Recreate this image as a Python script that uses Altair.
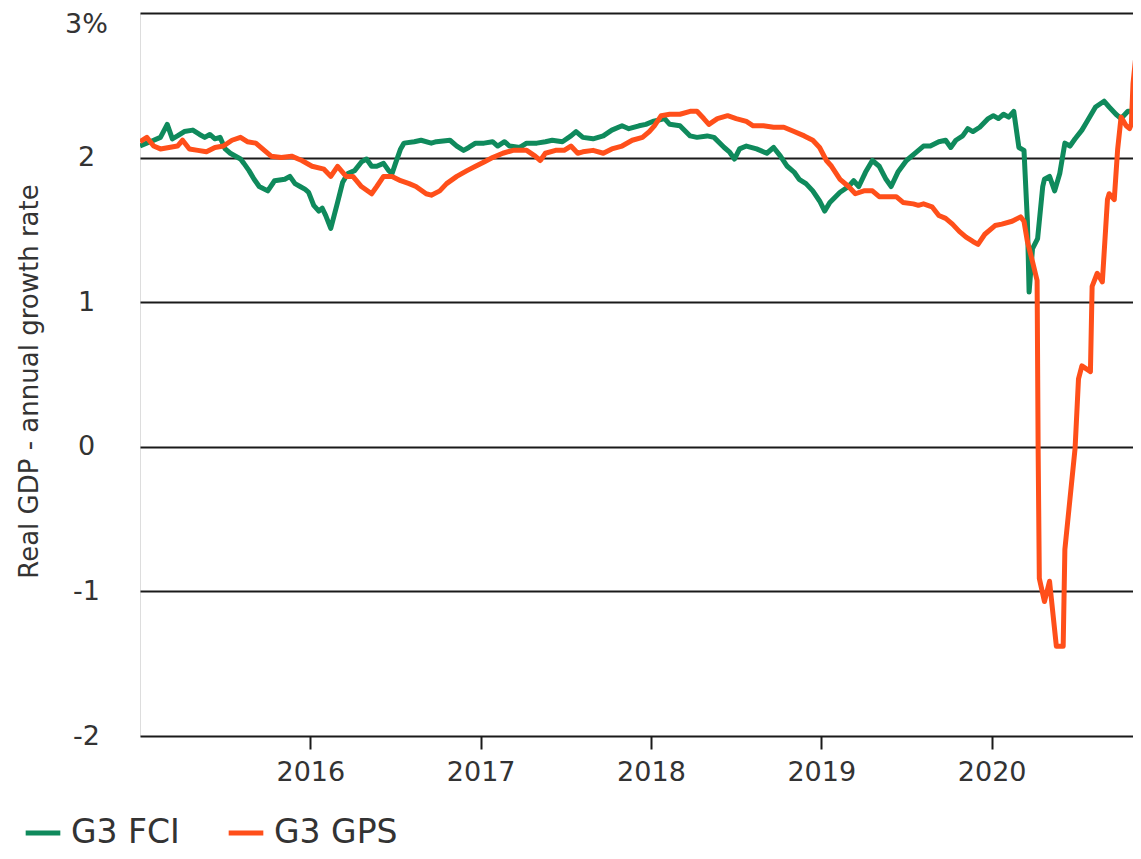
import altair as alt
import pandas as pd

# G3 FCI (green) - decimal year and real GDP growth (%)
fci_year = [2015.00, 2015.06, 2015.12, 2015.16, 2015.19, 2015.22, 2015.26, 2015.31, 2015.35, 2015.38,
            2015.41, 2015.44, 2015.47, 2015.50, 2015.53, 2015.59, 2015.61, 2015.64, 2015.67, 2015.70,
            2015.75, 2015.79, 2015.85, 2015.88, 2015.91, 2015.94, 2015.97, 2015.99, 2016.02, 2016.05,
            2016.07, 2016.09, 2016.12, 2016.14, 2016.16, 2016.19, 2016.22, 2016.26, 2016.30, 2016.33,
            2016.36, 2016.39, 2016.43, 2016.46, 2016.48, 2016.50, 2016.53, 2016.55, 2016.61, 2016.65,
            2016.71, 2016.74, 2016.82, 2016.86, 2016.90, 2016.93, 2016.97, 2017.02, 2017.07, 2017.10,
            2017.14, 2017.17, 2017.23, 2017.27, 2017.33, 2017.38, 2017.42, 2017.48, 2017.53, 2017.56,
            2017.60, 2017.66, 2017.72, 2017.77, 2017.83, 2017.87, 2017.93, 2017.97, 2018.01, 2018.08,
            2018.11, 2018.17, 2018.23, 2018.27, 2018.33, 2018.37, 2018.43, 2018.46, 2018.49, 2018.52,
            2018.56, 2018.62, 2018.68, 2018.72, 2018.76, 2018.80, 2018.84, 2018.87, 2018.91, 2018.95,
            2018.99, 2019.02, 2019.05, 2019.11, 2019.16, 2019.19, 2019.22, 2019.26, 2019.30, 2019.34,
            2019.38, 2019.41, 2019.45, 2019.50, 2019.56, 2019.60, 2019.64, 2019.69, 2019.73, 2019.76,
            2019.79, 2019.83, 2019.86, 2019.89, 2019.93, 2019.98, 2020.01, 2020.04, 2020.07, 2020.10,
            2020.13, 2020.16, 2020.19, 2020.21, 2020.22, 2020.24, 2020.27, 2020.30, 2020.31, 2020.34,
            2020.37, 2020.40, 2020.43, 2020.46, 2020.49, 2020.53, 2020.56, 2020.61, 2020.66, 2020.69,
            2020.73, 2020.76, 2020.80, 2020.85]
fci_value = [2.08, 2.11, 2.14, 2.23, 2.13, 2.15, 2.18, 2.19, 2.16, 2.14,
             2.16, 2.13, 2.14, 2.06, 2.03, 1.99, 1.96, 1.91, 1.85, 1.80,
             1.77, 1.84, 1.85, 1.87, 1.82, 1.80, 1.78, 1.76, 1.67, 1.63,
             1.65, 1.60, 1.51, 1.60, 1.69, 1.83, 1.89, 1.91, 1.97, 1.99,
             1.94, 1.94, 1.96, 1.91, 1.89, 1.96, 2.06, 2.10, 2.11, 2.12,
             2.10, 2.11, 2.12, 2.08, 2.05, 2.07, 2.10, 2.10, 2.11, 2.08,
             2.11, 2.08, 2.07, 2.10, 2.10, 2.11, 2.12, 2.11, 2.15, 2.18,
             2.14, 2.13, 2.15, 2.19, 2.22, 2.20, 2.22, 2.23, 2.25, 2.27,
             2.23, 2.22, 2.15, 2.14, 2.15, 2.14, 2.07, 2.04, 1.99, 2.06,
             2.08, 2.06, 2.03, 2.07, 2.01, 1.94, 1.90, 1.85, 1.82, 1.77,
             1.70, 1.63, 1.69, 1.76, 1.80, 1.84, 1.80, 1.90, 1.98, 1.94,
             1.85, 1.80, 1.90, 1.98, 2.04, 2.08, 2.08, 2.11, 2.12, 2.07,
             2.12, 2.15, 2.20, 2.18, 2.21, 2.27, 2.29, 2.27, 2.30, 2.28,
             2.32, 2.07, 2.05, 1.56, 1.07, 1.37, 1.44, 1.80, 1.85, 1.87,
             1.77, 1.89, 2.10, 2.08, 2.13, 2.19, 2.25, 2.35, 2.39, 2.35,
             2.30, 2.27, 2.32, 2.32]

# G3 GPS (orange)
gps_year = [2015.00, 2015.04, 2015.08, 2015.12, 2015.17, 2015.22, 2015.25, 2015.29, 2015.34, 2015.39,
            2015.44, 2015.49, 2015.54, 2015.59, 2015.63, 2015.68, 2015.73, 2015.77, 2015.83, 2015.89,
            2015.95, 2016.01, 2016.08, 2016.12, 2016.16, 2016.21, 2016.25, 2016.30, 2016.36, 2016.39,
            2016.43, 2016.48, 2016.53, 2016.58, 2016.62, 2016.68, 2016.71, 2016.76, 2016.80, 2016.86,
            2016.92, 2016.97, 2017.02, 2017.07, 2017.13, 2017.19, 2017.27, 2017.32, 2017.35, 2017.38,
            2017.44, 2017.49, 2017.53, 2017.57, 2017.60, 2017.66, 2017.72, 2017.77, 2017.83, 2017.89,
            2017.95, 2017.99, 2018.02, 2018.06, 2018.11, 2018.17, 2018.23, 2018.27, 2018.31, 2018.34,
            2018.39, 2018.45, 2018.50, 2018.56, 2018.60, 2018.66, 2018.72, 2018.78, 2018.84, 2018.90,
            2018.95, 2018.99, 2019.03, 2019.06, 2019.11, 2019.16, 2019.20, 2019.25, 2019.30, 2019.34,
            2019.39, 2019.44, 2019.48, 2019.54, 2019.57, 2019.60, 2019.65, 2019.69, 2019.73, 2019.77,
            2019.81, 2019.85, 2019.89, 2019.92, 2019.96, 2020.02, 2020.06, 2020.12, 2020.17, 2020.19,
            2020.21, 2020.24, 2020.267, 2020.273, 2020.28, 2020.31, 2020.34, 2020.38, 2020.42, 2020.43,
            2020.46, 2020.49, 2020.51, 2020.53, 2020.58, 2020.59, 2020.62, 2020.65, 2020.68, 2020.69,
            2020.72, 2020.74, 2020.76, 2020.79, 2020.81, 2020.82, 2020.83, 2020.85]
gps_value = [2.11, 2.14, 2.08, 2.06, 2.07, 2.08, 2.12, 2.06, 2.05, 2.04,
             2.07, 2.08, 2.12, 2.14, 2.11, 2.10, 2.05, 2.01, 2.00, 2.01,
             1.98, 1.94, 1.92, 1.87, 1.94, 1.87, 1.87, 1.80, 1.75, 1.80,
             1.87, 1.87, 1.84, 1.82, 1.80, 1.75, 1.74, 1.77, 1.82, 1.87,
             1.91, 1.94, 1.97, 2.00, 2.03, 2.05, 2.05, 2.01, 1.98, 2.03,
             2.05, 2.05, 2.08, 2.03, 2.04, 2.05, 2.03, 2.06, 2.08, 2.12,
             2.14, 2.18, 2.22, 2.29, 2.30, 2.30, 2.32, 2.32, 2.27, 2.23,
             2.27, 2.29, 2.27, 2.25, 2.22, 2.22, 2.21, 2.21, 2.18, 2.15,
             2.12, 2.07, 1.98, 1.94, 1.85, 1.80, 1.75, 1.77, 1.77, 1.73,
             1.73, 1.73, 1.69, 1.68, 1.67, 1.68, 1.66, 1.60, 1.58, 1.54,
             1.49, 1.45, 1.42, 1.40, 1.47, 1.53, 1.54, 1.56, 1.59, 1.56,
             1.42, 1.28, 1.15, -0.01, -0.91, -1.07, -0.93, -1.38, -1.38, -0.71,
             -0.36, -0.01, 0.47, 0.56, 0.52, 1.11, 1.20, 1.14, 1.71, 1.75,
             1.71, 2.06, 2.28, 2.22, 2.20, 2.23, 2.51, 2.74]

series_names = ["G3 FCI", "G3 GPS"]
series_colors = ["#0f8a5c", "#ff4f1a"]
y_ticks = [-2, -1, 0, 1, 2, 3]
x_ticks = [2016, 2017, 2018, 2019, 2020]

rows = []
for i, (x, v) in enumerate(zip(fci_year, fci_value)):
    rows.append({"year": x, "value": v, "series": series_names[0], "i": i})
for i, (x, v) in enumerate(zip(gps_year, gps_value)):
    rows.append({"year": x, "value": v, "series": series_names[1], "i": i})
df = pd.DataFrame(rows)

FONT = "DejaVu Sans"
TEXT = "#333333"

chart = alt.Chart(df).mark_line(strokeWidth=5, clip=True, strokeJoin="round").encode(
    x=alt.X("year:Q",
            scale=alt.Scale(domain=[2015.0, 2020.83], nice=False, zero=False),
            axis=alt.Axis(values=x_ticks, format="d", title=None, grid=False, domain=False,
                          tickSize=13, tickWidth=2, tickColor="#1a1a1a",
                          labelFontSize=27, labelFont=FONT, labelColor=TEXT, labelPadding=10,
                          labelFlush=False)),
    y=alt.Y("value:Q",
            scale=alt.Scale(domain=[-2, 3], nice=False, zero=False),
            axis=alt.Axis(values=y_ticks, title="Real GDP - annual growth rate",
                          labelExpr="datum.value == 3 ? '3%' : '' + datum.value",
                          grid=True, gridColor="#1a1a1a", gridWidth=2, gridOpacity=1,
                          domain=False, ticks=False, tickSize=0,
                          labelFontSize=27, labelFont=FONT, labelColor=TEXT,
                          labelAlign="center", labelBaseline="middle", labelPadding=54,
                          labelOffset={"condition": {"test": "datum.value == 3", "value": 11}, "value": 0},
                          titleFont=FONT, titleFontSize=26, titleFontWeight="normal",
                          titleColor=TEXT, titleAngle=-90, titleX=-111, titleY=368,
                          titleAlign="center", titleBaseline="middle")),
    color=alt.Color("series:N",
                    scale=alt.Scale(domain=series_names, range=series_colors),
                    legend=alt.Legend(title=None, orient="none", direction="horizontal",
                                      legendX=-117, legendY=800,
                                      symbolType="stroke", symbolSize=1200,
                                      symbolStrokeWidth=5, labelFontSize=33,
                                      labelFont=FONT, labelColor=TEXT, labelOffset=8,
                                      columnPadding=38)),
    order=alt.Order("i:Q"),
).properties(
    width=993,
    height=723,
    autosize=alt.AutoSizeParams(type="none"),
    padding={"left": 132, "top": 5, "right": 0, "bottom": 115},
).configure_view(strokeWidth=0, strokeOpacity=0).configure(background="white")

chart.save("out.html", embed_options={"renderer": "svg", "actions": False})
